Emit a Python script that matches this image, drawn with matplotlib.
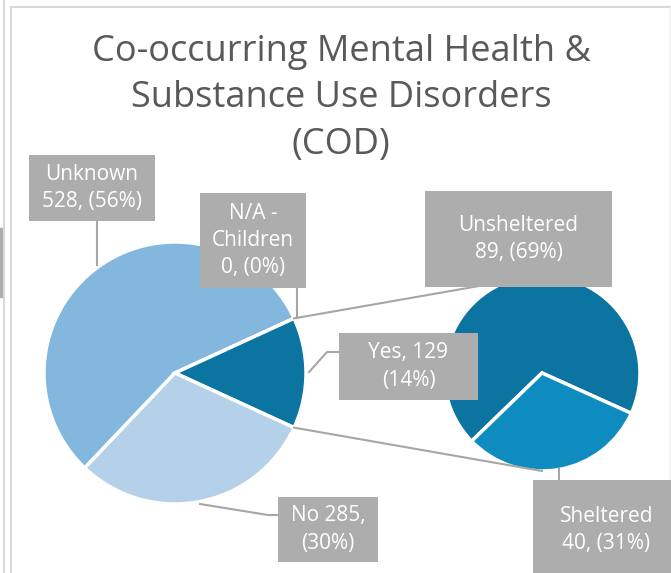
import numpy as np
import matplotlib.pyplot as plt
from matplotlib.patches import Rectangle

plt.rcParams['font.family'] = ['Open Sans', 'DejaVu Sans']

# main pie (clockwise order, as in the workbook)
main_labels = ["Unknown", "N/A -\nChildren", "Yes", "No"]
main_values = [528, 0, 129, 285]
main_colors = ["#83B7DE", "#83B7DE", "#0B74A0", "#B5D1E9"]

# secondary pie: breakdown of "Yes"
sub_labels = ["Unsheltered", "Sheltered"]
sub_values = [89, 40]
sub_colors = ["#0B74A0", "#0E8CC0"]

W, H = 671, 573
fig = plt.figure(figsize=(W / 100, H / 100), dpi=100)
ax = fig.add_axes([0, 0, 1, 1])

def fy(y):
    return H - y

total = sum(main_values)
yes_idx = main_labels.index("Yes")
half = 0.5 * main_values[yes_idx] / total * 360
start = half + sum(main_values[:yes_idx]) / total * 360

c1, r1 = (175, fy(373)), 131
c2, r2 = (542, fy(373)), 98

ax.pie(main_values, colors=main_colors, startangle=start, counterclock=False,
       center=c1, radius=r1, frame=True,
       wedgeprops=dict(edgecolor='white', linewidth=2.5))

sub_start = -24.3 + sub_values[0] / sum(sub_values) * 360
ax.pie(sub_values, colors=sub_colors, startangle=sub_start, counterclock=False,
       center=c2, radius=r2, frame=True,
       wedgeprops=dict(edgecolor='white', linewidth=2.5))
ax.set_xlim(0, W)
ax.set_ylim(0, H)
ax.set_aspect('equal')
ax.axis('off')

# frame bits
ax.plot([3.5, 3.5], [0, H], color="#D9D9D9", lw=1.5)
ax.plot([11, 11], [0, fy(7)], color="#D9D9D9", lw=1.5)
ax.plot([11, W], [fy(7), fy(7)], color="#D9D9D9", lw=1.5)
ax.plot([670, 670], [0, fy(7)], color="#EDEDED", lw=1)
ax.add_patch(Rectangle((0, fy(297)), 3, 69, color="#ADADAD"))

title_lines = ["Co-occurring Mental Health &", "Substance Use Disorders", "(COD)"]
for y, line in zip([52, 98, 145], title_lines):
    ax.text(341, fy(y), line, ha='center', va='center', fontsize=26, color="#595959")

# connector lines between the pies
lc = "#A6A6A6"
t = np.deg2rad(half)
p_top = (c1[0] + r1 * np.cos(t), c1[1] + r1 * np.sin(t))
p_bot = (c1[0] + r1 * np.cos(t), c1[1] - r1 * np.sin(t))
ax.plot([p_top[0], c2[0]], [p_top[1], c2[1] + r2], color=lc, lw=1.5, zorder=1)
ax.plot([p_bot[0], c2[0]], [p_bot[1], c2[1] - r2], color=lc, lw=1.5, zorder=1)

# leader lines
ax.plot([97, 97], [fy(221), fy(265)], color=lc, lw=1.5)
ax.plot([297, 297], [fy(288), fy(318)], color=lc, lw=1.5)
ax.plot([309, 327, 339], [fy(372), fy(352), fy(352)], color=lc, lw=1.5)
ax.plot([200, 268, 278], [fy(504), fy(515), fy(515)], color=lc, lw=1.5)
ax.plot([559, 559], [fy(469), fy(480)], color=lc, lw=1.5)

# data label boxes (x0, y0, x1, y1 in image pixels)
def label_box(x0, y0, x1, y1, text):
    ax.add_patch(Rectangle((x0, fy(y1)), x1 - x0, y1 - y0,
                           facecolor="#ADADAD", edgecolor='none', zorder=5))
    ax.text((x0 + x1) / 2, fy((y0 + y1) / 2), text, ha='center', va='center',
            fontsize=15, color='white', linespacing=1.4, zorder=6)

sub_total = sum(sub_values)
label_box(29, 155, 155, 221, f"{main_labels[0]}\n{main_values[0]}, ({main_values[0] / total:.0%})")
label_box(200, 193, 306, 288, f"{main_labels[1]}\n{main_values[1]}, ({main_values[1] / total:.0%})")
label_box(339, 333, 478, 400, f"{main_labels[2]}, {main_values[2]}\n({main_values[2] / total:.0%})")
label_box(278, 497, 378, 562, f"{main_labels[3]} {main_values[3]},\n({main_values[3] / total:.0%})")
label_box(425, 191, 612, 287, f"{sub_labels[0]}\n{sub_values[0]}, ({sub_values[0] / sub_total:.0%})")
label_box(533, 480, 680, 580, f"{sub_labels[1]}\n{sub_values[1]}, ({sub_values[1] / sub_total:.0%})")

fig.savefig("out.png", dpi=100)
